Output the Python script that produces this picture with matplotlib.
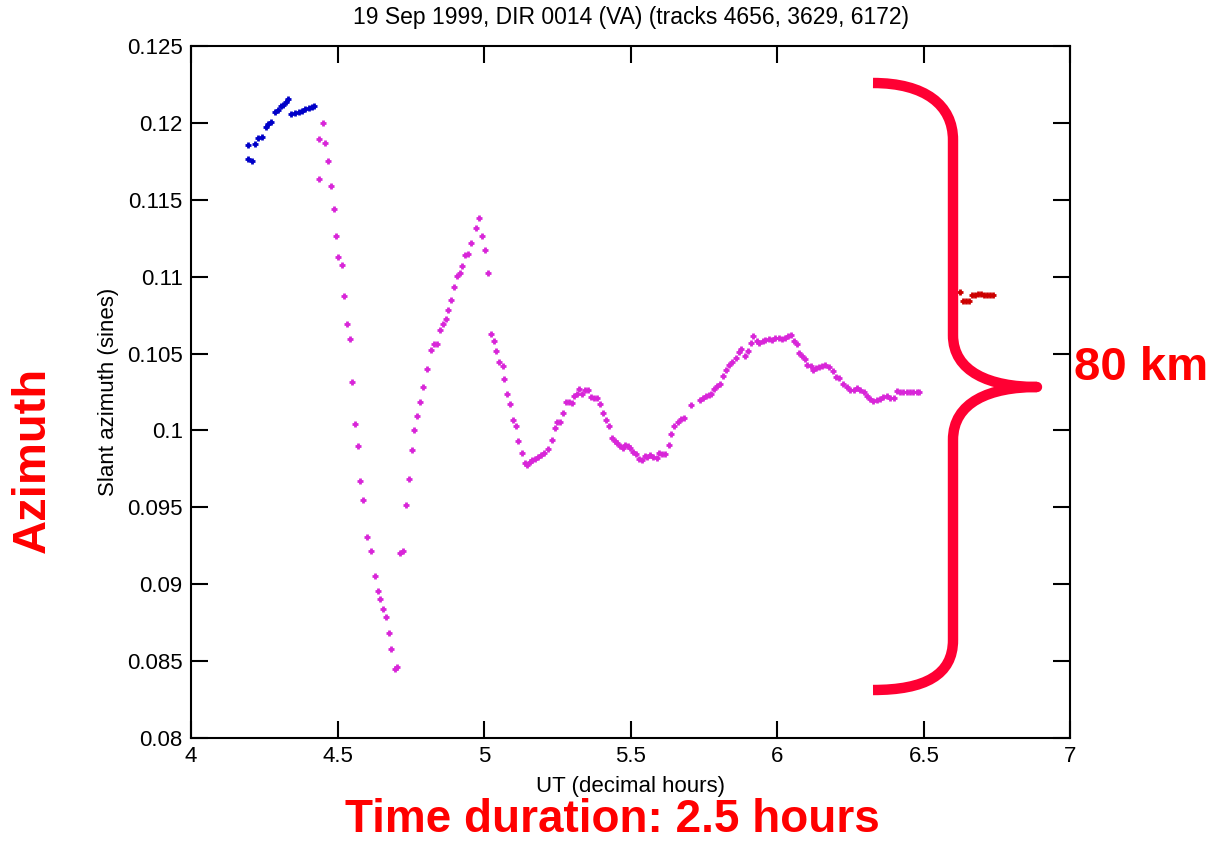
import matplotlib
matplotlib.use("Agg")
import matplotlib.pyplot as plt
from matplotlib.path import Path
from matplotlib.patches import PathPatch

plt.rcParams['font.family'] = ['Liberation Sans', 'DejaVu Sans']

# track 4656 (blue)
blue_t = [4.196, 4.196, 4.209, 4.219, 4.230, 4.242, 4.255, 4.264, 4.273, 4.285, 4.296, 4.307,
          4.314, 4.324, 4.332, 4.342, 4.353, 4.367, 4.378, 4.389, 4.401, 4.412, 4.420]
blue_az = [0.11855, 0.11768, 0.11753, 0.11862, 0.11901, 0.11909, 0.11976, 0.11995, 0.12008,
           0.12073, 0.12086, 0.12108, 0.12115, 0.12136, 0.12154, 0.12056, 0.12065, 0.12073,
           0.12078, 0.12089, 0.12099, 0.12106, 0.12110]

# track 3629 (magenta)
mag_t = [4.437, 4.438, 4.449, 4.458, 4.468, 4.477, 4.486, 4.494, 4.503, 4.514, 4.523, 4.533,
         4.542, 4.548, 4.558, 4.568, 4.577, 4.588, 4.600, 4.613, 4.626, 4.637, 4.646, 4.655,
         4.665, 4.674, 4.681, 4.696, 4.701, 4.712, 4.722, 4.734, 4.742, 4.753, 4.762, 4.771,
         4.781, 4.792, 4.804, 4.818, 4.829, 4.840, 4.850, 4.859, 4.869, 4.878, 4.888, 4.898,
         4.908, 4.917, 4.926, 4.936, 4.946, 4.956, 4.971, 4.982, 4.992, 5.004, 5.014, 5.023,
         5.033, 5.040, 5.050, 5.063, 5.069, 5.079, 5.088, 5.098, 5.108, 5.117, 5.130, 5.138,
         5.147, 5.155, 5.164, 5.173, 5.183, 5.195, 5.205, 5.217, 5.230, 5.240, 5.248, 5.258,
         5.270, 5.279, 5.289, 5.298, 5.308, 5.317, 5.325, 5.332, 5.344, 5.353, 5.366, 5.376,
         5.386, 5.395, 5.405, 5.415, 5.425, 5.435, 5.445, 5.453, 5.462, 5.472, 5.482, 5.491,
         5.498, 5.508, 5.518, 5.528, 5.538, 5.547, 5.557, 5.567, 5.575, 5.588, 5.598, 5.607,
         5.617, 5.629, 5.637, 5.649, 5.661, 5.671, 5.681, 5.705, 5.736, 5.746, 5.756, 5.766,
         5.773, 5.784, 5.795, 5.806, 5.816, 5.825, 5.836, 5.846, 5.858, 5.868, 5.877, 5.891,
         5.900, 5.909, 5.918, 5.930, 5.938, 5.950, 5.959, 5.971, 5.982, 5.993, 6.005, 6.016,
         6.027, 6.036, 6.046, 6.057, 6.068, 6.075, 6.084, 6.093, 6.102, 6.114, 6.123, 6.132,
         6.141, 6.153, 6.164, 6.176, 6.189, 6.200, 6.212, 6.225, 6.237, 6.248, 6.260, 6.271,
         6.282, 6.294, 6.305, 6.317, 6.328, 6.340, 6.351, 6.362, 6.374, 6.385, 6.399, 6.408,
         6.419, 6.430, 6.442, 6.453, 6.464, 6.476, 6.483]
mag_az = [0.11896, 0.11638, 0.12000, 0.11872, 0.11749, 0.11589, 0.11443, 0.11264, 0.11130,
          0.11076, 0.10872, 0.10695, 0.10597, 0.10314, 0.10045, 0.09896, 0.09669, 0.09547,
          0.09307, 0.09216, 0.09056, 0.08959, 0.08902, 0.08842, 0.08787, 0.08682, 0.08578,
          0.08452, 0.08463, 0.09206, 0.09216, 0.09517, 0.09682, 0.09872, 0.10000, 0.10093,
          0.10184, 0.10284, 0.10400, 0.10524, 0.10565, 0.10565, 0.10651, 0.10695, 0.10725,
          0.10786, 0.10849, 0.10933, 0.11002, 0.11026, 0.11069, 0.11143, 0.11149, 0.11221,
          0.11314, 0.11381, 0.11266, 0.11173, 0.11026, 0.10628, 0.10584, 0.10516, 0.10448,
          0.10419, 0.10334, 0.10234, 0.10173, 0.10065, 0.10032, 0.09930, 0.09855, 0.09790,
          0.09773, 0.09794, 0.09805, 0.09813, 0.09829, 0.09842, 0.09855, 0.09881, 0.09941,
          0.10013, 0.10056, 0.10052, 0.10115, 0.10186, 0.10188, 0.10177, 0.10227, 0.10234,
          0.10271, 0.10234, 0.10260, 0.10264, 0.10216, 0.10214, 0.10210, 0.10169, 0.10115,
          0.10069, 0.10026, 0.09952, 0.09930, 0.09917, 0.09898, 0.09885, 0.09907, 0.09898,
          0.09883, 0.09857, 0.09844, 0.09816, 0.09810, 0.09836, 0.09826, 0.09839, 0.09829,
          0.09820, 0.09852, 0.09848, 0.09844, 0.09907, 0.09978, 0.10030, 0.10056, 0.10073,
          0.10082, 0.10167, 0.10201, 0.10211, 0.10221, 0.10230, 0.10240, 0.10271, 0.10286,
          0.10299, 0.10354, 0.10396, 0.10426, 0.10448, 0.10472, 0.10508, 0.10530, 0.10482,
          0.10519, 0.10567, 0.10617, 0.10580, 0.10569, 0.10580, 0.10586, 0.10593, 0.10589,
          0.10602, 0.10602, 0.10597, 0.10602, 0.10612, 0.10623, 0.10584, 0.10563, 0.10504,
          0.10482, 0.10465, 0.10426, 0.10417, 0.10396, 0.10404, 0.10411, 0.10422, 0.10426,
          0.10415, 0.10388, 0.10350, 0.10339, 0.10299, 0.10281, 0.10264, 0.10260, 0.10277,
          0.10264, 0.10249, 0.10227, 0.10206, 0.10190, 0.10199, 0.10206, 0.10216, 0.10221,
          0.10212, 0.10208, 0.10255, 0.10249, 0.10247, 0.10247, 0.10247, 0.10247, 0.10247,
          0.10247]

# track 6172 (red)
red_t = [6.624, 6.634, 6.645, 6.655, 6.665, 6.675, 6.686, 6.696, 6.706, 6.716, 6.727, 6.737]
red_az = [0.10898, 0.10844, 0.10844, 0.10844, 0.10881, 0.10883, 0.10885, 0.10884, 0.10882,
          0.10883, 0.10881, 0.10879]

x_ticks = [4, 4.5, 5, 5.5, 6, 6.5, 7]
y_ticks = [0.08, 0.085, 0.09, 0.095, 0.1, 0.105, 0.11, 0.115, 0.12, 0.125]

fig = plt.figure(figsize=(12.23, 8.42), dpi=100)
ax = fig.add_axes([0.1562, 0.1235, 0.7191, 0.8219])

mk = dict(marker='+', linestyle='none', markersize=5, markeredgewidth=2)
ax.plot(blue_t, blue_az, color='#0000c8', **mk)
ax.plot(mag_t, mag_az, color='#d826d8', **mk)
ax.plot(red_t, red_az, color='#cc0000', **mk)

ax.set_xlim(4, 7)
ax.set_ylim(0.08, 0.125)
ax.set_xticks(x_ticks)
ax.set_yticks(y_ticks)
ax.set_xticklabels(['%g' % v for v in x_ticks])
ax.set_yticklabels(['%g' % v for v in y_ticks])
ax.tick_params(direction='in', length=12, width=1.5, labelsize=16, pad=6,
               top=True, right=True)
for s in ax.spines.values():
    s.set_linewidth(1.5)

ax.set_title('19 Sep 1999, DIR 0014 (VA) (tracks 4656, 3629, 6172)', fontsize=16.5, pad=16)
ax.set_xlabel('UT (decimal hours)', fontsize=16, labelpad=6)
ax.set_ylabel('Slant azimuth (sines)', fontsize=16, labelpad=6)

# overlay in pixel space for the red annotations
ov = fig.add_axes([0, 0, 1, 1], facecolor='none')
ov.set_xlim(0, 1223)
ov.set_ylim(842, 0)
ov.axis('off')

verts = [(873, 83), (925, 83), (953, 105), (953, 140),
         (953, 335),
         (953, 372), (990, 387), (1037, 387),
         (990, 387), (953, 402), (953, 440),
         (953, 640),
         (953, 675), (925, 690), (873, 690)]
codes = [Path.MOVETO, Path.CURVE4, Path.CURVE4, Path.CURVE4,
         Path.LINETO,
         Path.CURVE4, Path.CURVE4, Path.CURVE4,
         Path.CURVE4, Path.CURVE4, Path.CURVE4,
         Path.LINETO,
         Path.CURVE4, Path.CURVE4, Path.CURVE4]
ov.add_patch(PathPatch(Path(verts, codes), facecolor='none', edgecolor='#ff0033',
                       linewidth=7.5, capstyle='butt', joinstyle='round'))

red_txt = dict(color='#ff0000', fontsize=34, fontweight='bold')
ov.text(1141, 368, '80 km', ha='center', va='center', **red_txt)
ov.text(33, 460, 'Azimuth', ha='center', va='center', rotation=90, **red_txt)
ov.text(612, 820, 'Time duration: 2.5 hours', ha='center', va='center',
        color='#ff0000', fontsize=33, fontweight='bold')

fig.savefig('out.png', dpi=100)
